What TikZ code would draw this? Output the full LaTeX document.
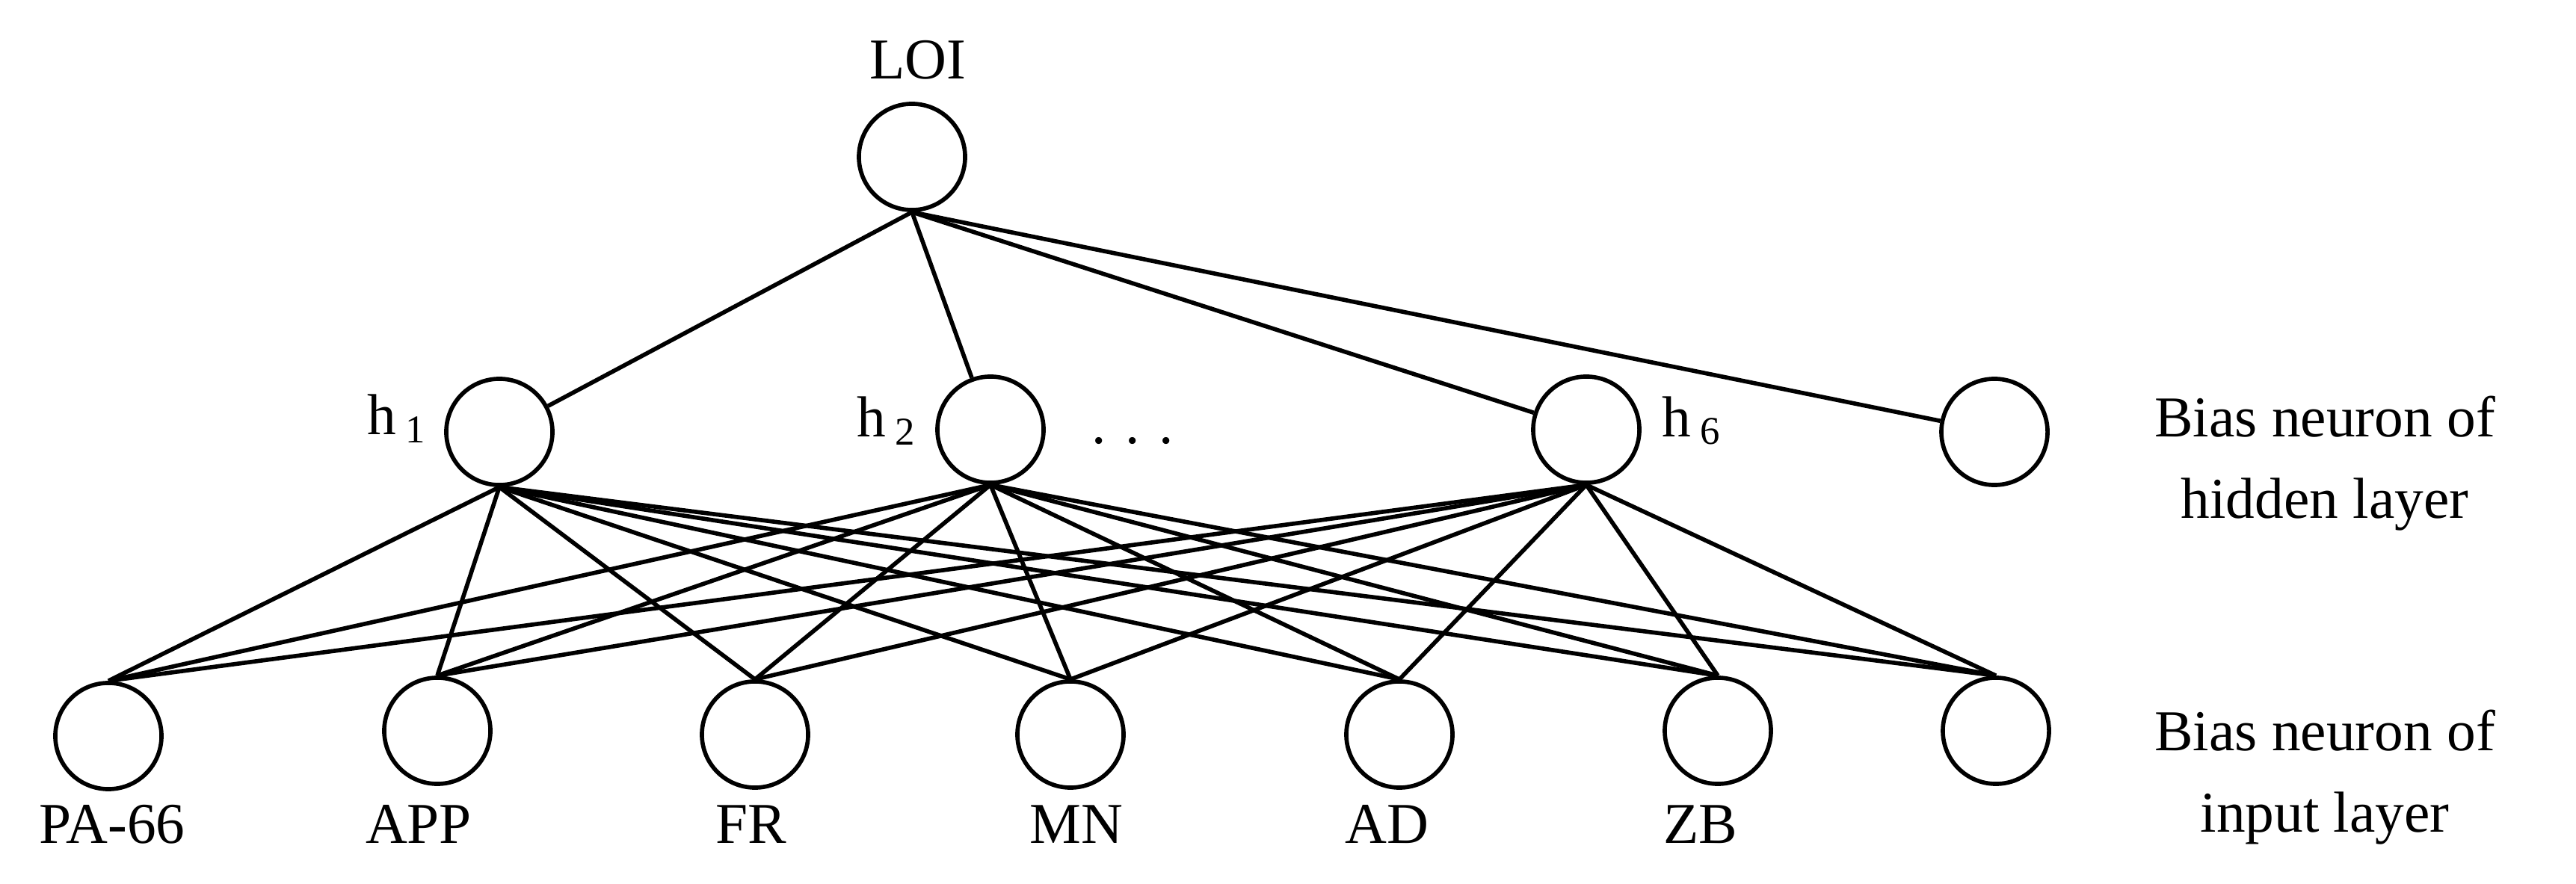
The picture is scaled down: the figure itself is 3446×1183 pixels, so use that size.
\documentclass[tikz,border=0pt]{standalone}
\usepackage{fontspec}
\setmainfont{Liberation Serif}
\begin{document}
\begin{tikzpicture}[x=0.01cm,y=-0.01cm,
  neu/.style={circle,draw,line width=1.6pt,minimum size=1.42cm,inner sep=0pt},
  lbl/.style={font=\fontsize{22}{27}\selectfont},
  con/.style={line width=1.6pt}]
\useasboundingbox (0,0) rectangle (3446,1183);
\node[neu] (loi) at (1220,210) {};
\node[neu] (h1) at (668,578) {};
\node[neu] (h2) at (1325,575) {};
\node[neu] (h6) at (2122,575) {};
\node[neu] (hb) at (2668,578) {};
\node[neu] (i1) at (145,985) {};
\node[neu] (i2) at (585,978) {};
\node[neu] (i3) at (1010,983) {};
\node[neu] (i4) at (1432,983) {};
\node[neu] (i5) at (1872,983) {};
\node[neu] (i6) at (2298,978) {};
\node[neu] (i7) at (2670,978) {};
\node[lbl] (tloi) at (1228,80) {LOI};
\node[lbl] (th1) at (530,560) {h\,\raisebox{-0.3ex}{\fontsize{15}{18}\selectfont 1}};
\node[lbl] (th2) at (1185,563) {h\,\raisebox{-0.3ex}{\fontsize{15}{18}\selectfont 2}};
\node[lbl] (th6) at (2262,563) {h\,\raisebox{-0.3ex}{\fontsize{15}{18}\selectfont 6}};
\node[lbl] (dots) at (1515,590) {. . .};
\node[lbl] (t1) at (150,1103) {PA-66};
\node[lbl] (t2) at (560,1103) {APP};
\node[lbl] (t3) at (1005,1103) {FR};
\node[lbl] (t4) at (1440,1103) {MN};
\node[lbl] (t5) at (1855,1103) {AD};
\node[lbl] (t6) at (2275,1103) {ZB};
\node[lbl,align=center] (bh) at (3110,620) {Bias neuron of\\[4pt]hidden layer};
\node[lbl,align=center] (bi) at (3110,1040) {Bias neuron of\\[4pt]input layer};
\foreach \h in {h1,h2,h6,hb} \draw[con] (loi.south) -- (\h);
\foreach \h in {h1,h2,h6}
  \foreach \i in {i1,i2,i3,i4,i5,i6,i7}
    \draw[con] (\h.south) -- (\i.north);
\end{tikzpicture}
\end{document}
